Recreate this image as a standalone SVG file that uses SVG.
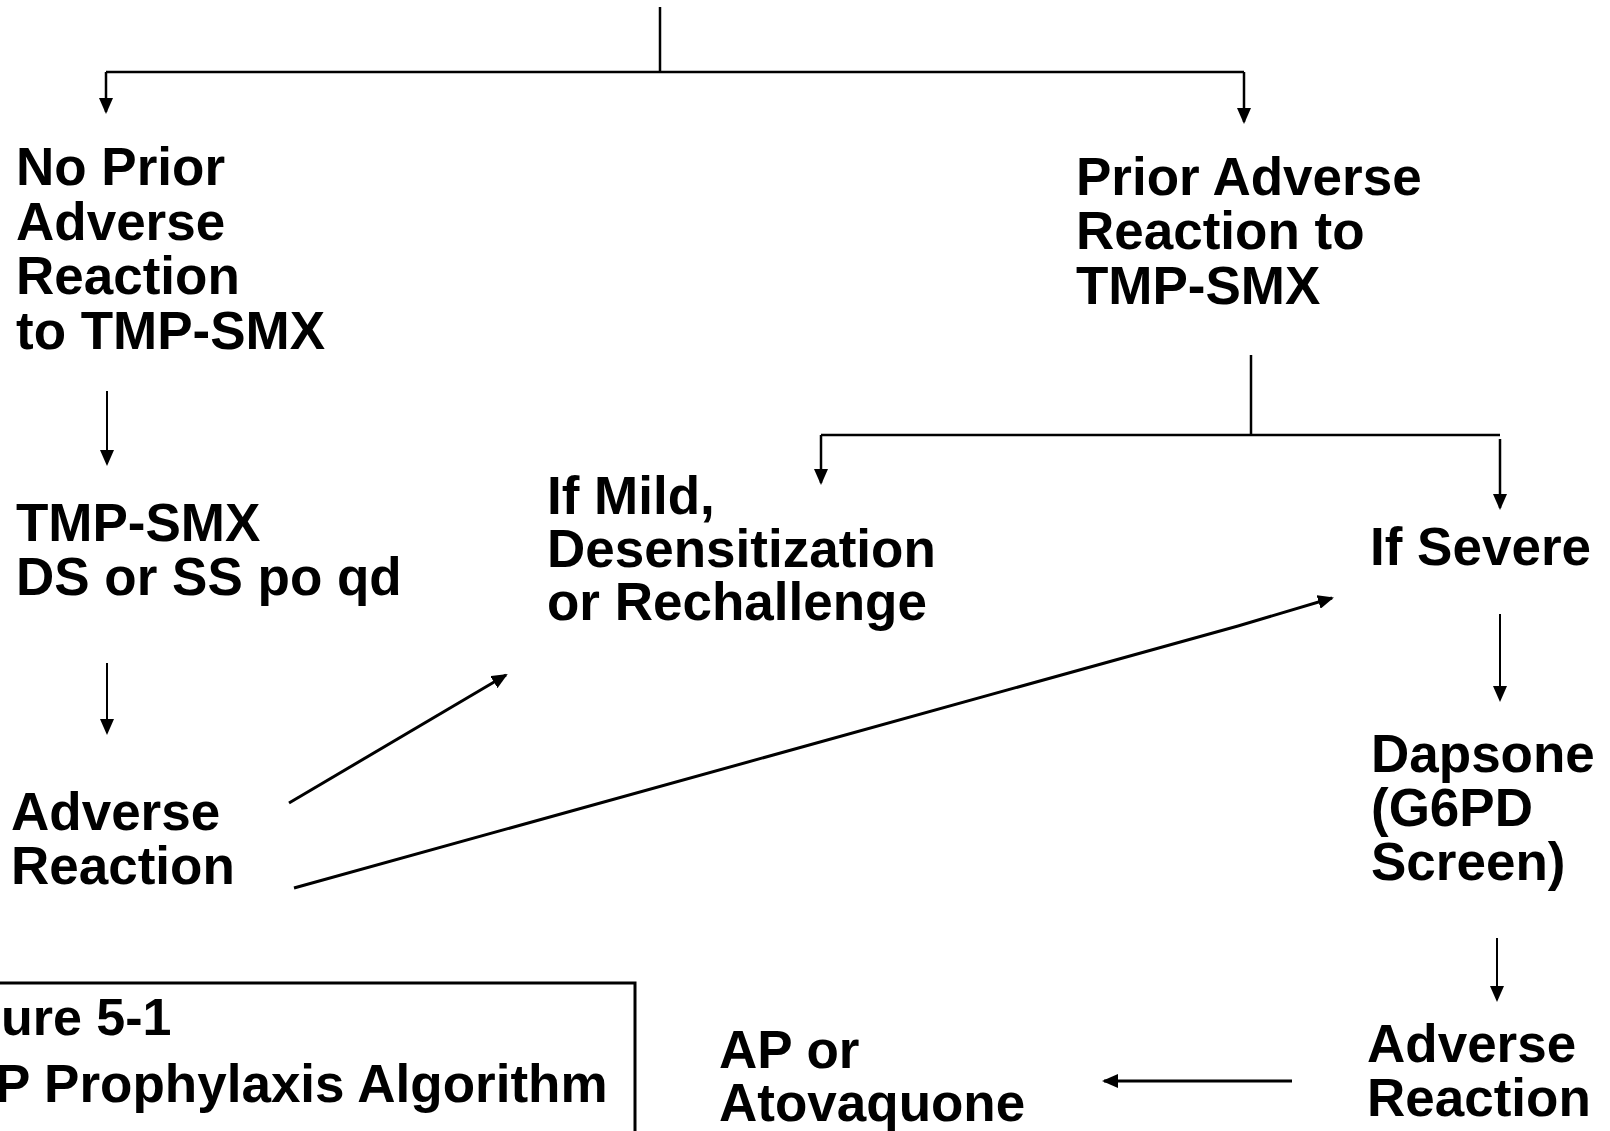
<svg xmlns="http://www.w3.org/2000/svg" width="1610" height="1131" viewBox="0 0 1610 1131">
<style>
  .t { font-family: "Liberation Sans", Arial, sans-serif; font-weight: bold; font-size: 53px; fill: #000; }
  .c { fill: none; stroke: #000; stroke-width: 2.5; }
  .thin { stroke-width: 2; }
  .thick { stroke-width: 3; }
</style>
<defs>
  <marker id="ah" markerUnits="userSpaceOnUse" markerWidth="16" markerHeight="14" refX="14" refY="7" orient="auto">
    <path d="M0,0 L16,7 L0,14 z" fill="#000"/>
  </marker>
</defs>
<rect width="1610" height="1131" fill="#fff"/>

<g id="connectors">
  <line class="c" x1="660" y1="7" x2="660" y2="72"/>
  <line class="c" x1="106" y1="72" x2="1244" y2="72"/>
  <line class="c" x1="106" y1="72" x2="106" y2="112" marker-end="url(#ah)"/>
  <line class="c" x1="1244" y1="72" x2="1244" y2="122" marker-end="url(#ah)"/>

  <line class="c" x1="1251" y1="355" x2="1251" y2="435"/>
  <line class="c" x1="821" y1="435" x2="1500" y2="435"/>
  <line class="c" x1="821" y1="435" x2="821" y2="483" marker-end="url(#ah)"/>
  <line class="c" x1="1500" y1="439" x2="1500" y2="508" marker-end="url(#ah)"/>

  <line class="c thin" x1="107" y1="391" x2="107" y2="464" marker-end="url(#ah)"/>
  <line class="c thin" x1="107" y1="663" x2="107" y2="733" marker-end="url(#ah)"/>

  <line class="c thick" x1="289" y1="803" x2="506" y2="675" marker-end="url(#ah)"/>
  <polyline class="c thick" points="294,888 1238,626 1332,598" marker-end="url(#ah)"/>

  <line class="c thin" x1="1500" y1="614" x2="1500" y2="700" marker-end="url(#ah)"/>
  <line class="c thin" x1="1497" y1="938" x2="1497" y2="1000" marker-end="url(#ah)"/>
  <line class="c thick" x1="1292" y1="1081" x2="1104" y2="1081" marker-end="url(#ah)"/>
</g>

<g id="no-prior">
  <text class="t"><tspan x="16" y="185">No Prior</tspan><tspan x="16" y="239.5">Adverse</tspan><tspan x="16" y="294">Reaction</tspan><tspan x="16" y="348.5">to TMP-SMX</tspan></text>
</g>

<g id="prior">
  <text class="t"><tspan x="1076" y="195">Prior Adverse</tspan><tspan x="1076" y="249">Reaction to</tspan><tspan x="1076" y="304">TMP-SMX</tspan></text>
</g>

<g id="tmp-smx">
  <text class="t"><tspan x="16" y="541">TMP-SMX</tspan><tspan x="16" y="595">DS or SS po qd</tspan></text>
</g>

<g id="adverse-left">
  <text class="t"><tspan x="11" y="830">Adverse</tspan><tspan x="11" y="884">Reaction</tspan></text>
</g>

<g id="if-mild">
  <text class="t"><tspan x="547" y="514">If Mild,</tspan><tspan x="547" y="567">Desensitization</tspan><tspan x="547" y="620">or Rechallenge</tspan></text>
</g>

<g id="if-severe">
  <text class="t" x="1370" y="565">If Severe</text>
</g>

<g id="dapsone">
  <text class="t"><tspan x="1371" y="772">Dapsone</tspan><tspan x="1371" y="826">(G6PD</tspan><tspan x="1371" y="880">Screen)</tspan></text>
</g>

<g id="adverse-right">
  <text class="t"><tspan x="1367" y="1062">Adverse</tspan><tspan x="1367" y="1116">Reaction</tspan></text>
</g>

<g id="ap">
  <text class="t"><tspan x="719" y="1068">AP or</tspan><tspan x="719" y="1121">Atovaquone</tspan></text>
</g>

<g id="caption">
  <rect x="-10" y="983" width="645" height="200" fill="none" stroke="#000" stroke-width="3"/>
  <text class="t"><tspan x="1" y="1035" style="font-size:52px">ure 5-1</tspan><tspan x="-5" y="1102">P Prophylaxis Algorithm</tspan></text>
</g>
</svg>
